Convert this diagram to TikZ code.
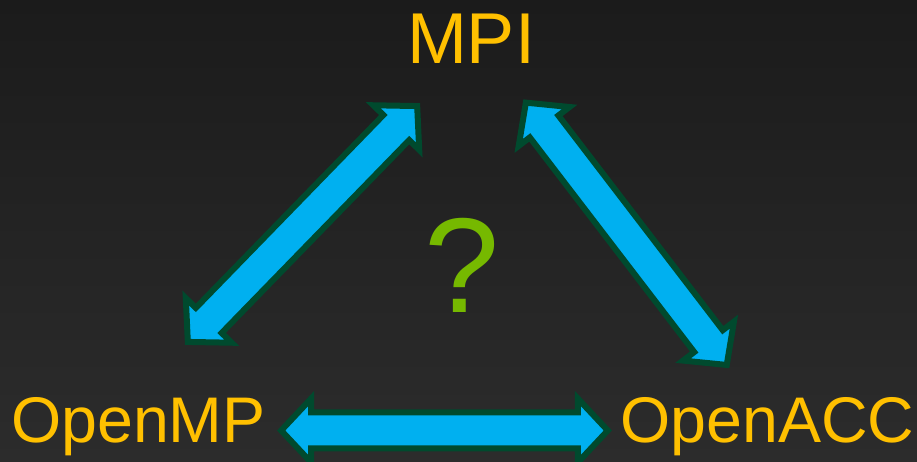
\documentclass[tikz,border=0pt]{standalone}
\usepackage{fontspec}
\setmainfont{Liberation Sans}
\definecolor{bgtop}{RGB}{27,27,27}
\definecolor{bgbot}{RGB}{44,44,44}
\definecolor{labelcol}{RGB}{255,192,0}
\definecolor{qcol}{RGB}{118,185,0}
\definecolor{arrowfill}{RGB}{0,176,240}
\definecolor{arrowline}{RGB}{0,74,46}
\tikzset{
  label text/.style={text=labelcol, inner sep=0pt, anchor=base},
  blockarrow/.style={fill=arrowfill, draw=arrowline, line width=6pt, line join=miter},
}
% #1 centre, #2 angle, #3 half length
\newcommand\dblarrow[3]{%
  \begin{scope}[shift={(#1)}, rotate=#2]
    \draw[blockarrow] (-#3,0) -- (-#3+30,32) -- (-#3+30,18) -- (#3-30,18)
      -- (#3-30,32) -- (#3,0) -- (#3-30,-32) -- (#3-30,-18)
      -- (-#3+30,-18) -- (-#3+30,-32) -- cycle;
  \end{scope}}
\begin{document}
\begin{tikzpicture}[x=1pt,y=1pt]
  \useasboundingbox (0,0) rectangle (917,462);
  \shade[top color=bgtop, bottom color=bgbot] (0,0) rectangle (917,462);
  \node[label text, font=\fontsize{72}{80}\selectfont] (mpi) at (471,398) {MPI};
  \node[label text, font=\fontsize{64.5}{72}\selectfont] (omp) at (138.5,19) {OpenMP};
  \node[label text, font=\fontsize{64.5}{72}\selectfont] (acc) at (767.5,19) {OpenACC};
  \node[text=qcol, inner sep=0pt, anchor=base, font=\fontsize{135}{140}\selectfont] (q) at (462,149) {?};
  \coordinate (leftc) at (302.5,238);
  \coordinate (rightc) at (626.3,228.2);
  \coordinate (botc) at (444.5,31.5);
  \dblarrow{leftc}{45.8}{164.5}
  \dblarrow{rightc}{127.45}{165.2}
  \dblarrow{botc}{0}{163.3}
\end{tikzpicture}
\end{document}
